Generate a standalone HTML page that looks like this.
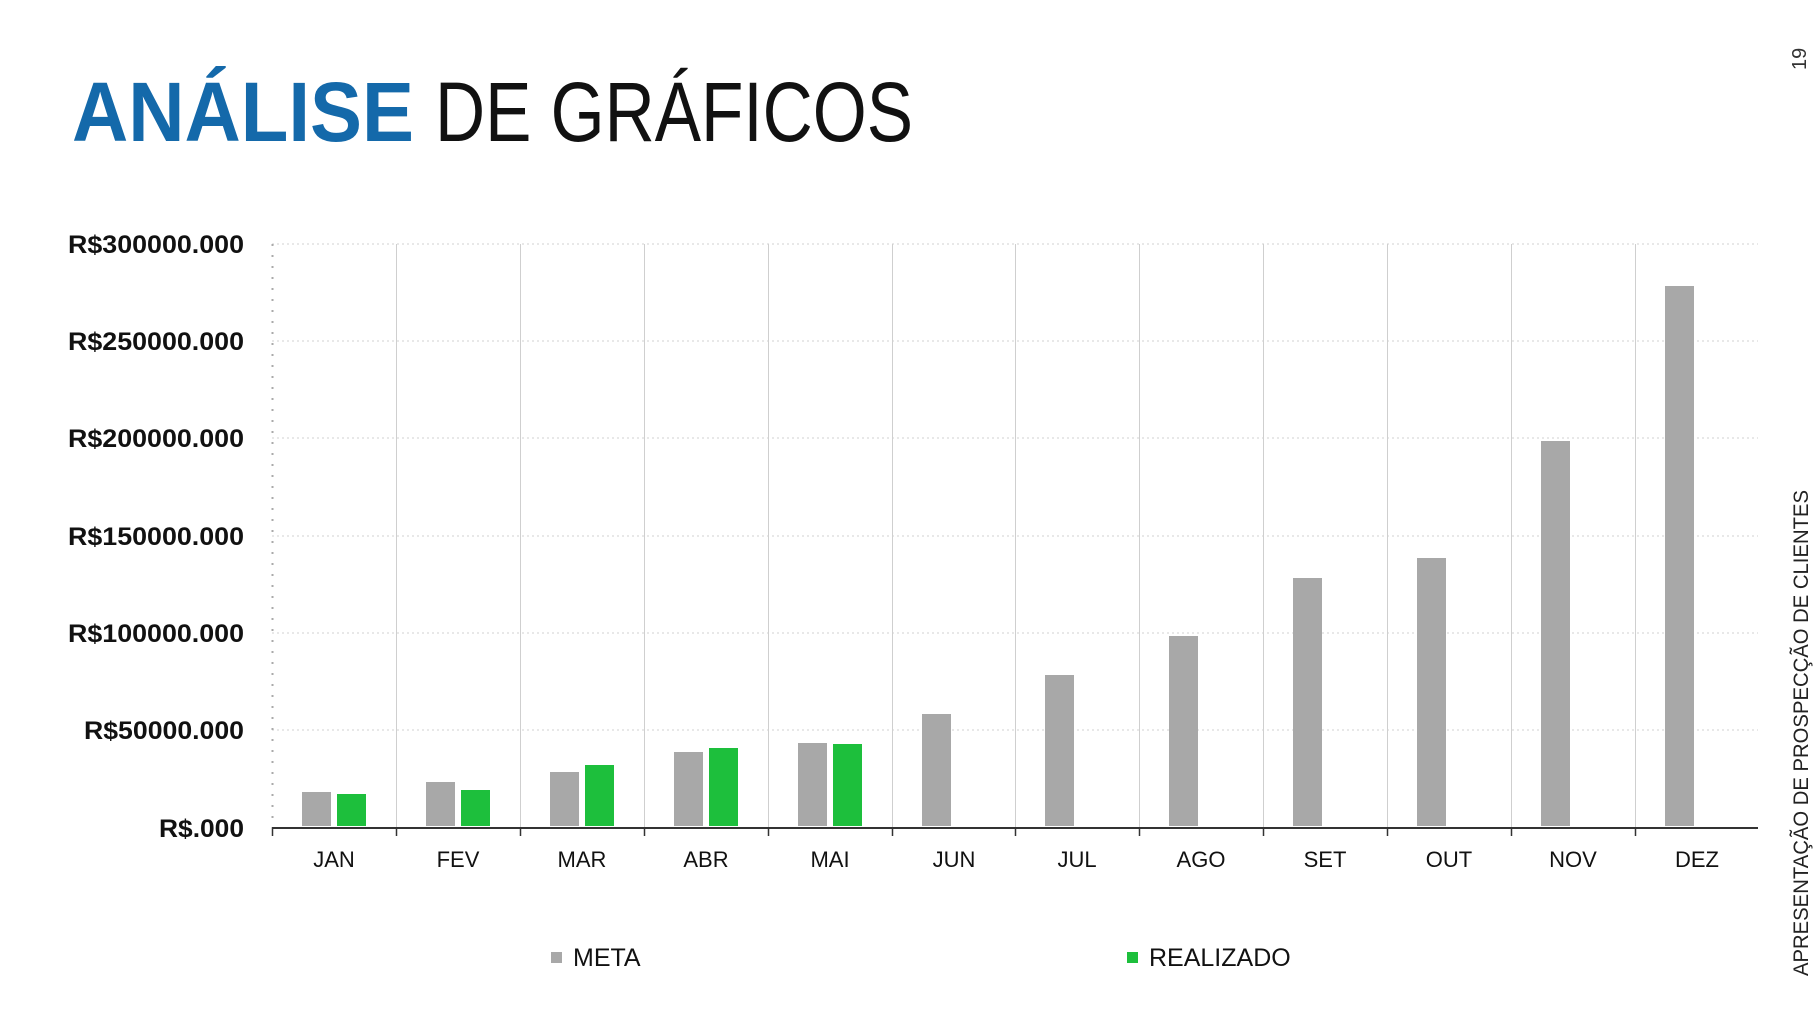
<!DOCTYPE html>
<html><head><meta charset="utf-8"><style>html,body{margin:0;padding:0;background:#fff}svg{display:block}</style></head>
<body>
<svg width="1820" height="1024" viewBox="0 0 1820 1024" xmlns="http://www.w3.org/2000/svg" font-family="'Liberation Sans', sans-serif">
<text x="72" y="141" font-size="84" font-weight="bold" fill="#1469aa" textLength="342" lengthAdjust="spacingAndGlyphs">ANÁLISE</text>
<text x="435" y="141" font-size="84" fill="#111" textLength="478" lengthAdjust="spacingAndGlyphs">DE GRÁFICOS</text>
<text transform="translate(1806,70) rotate(-90)" font-size="20" fill="#333">19</text>
<text transform="translate(1808,976) rotate(-90)" font-size="21" fill="#222" textLength="486" lengthAdjust="spacingAndGlyphs">APRESENTAÇÃO DE PROSPECÇÃO DE CLIENTES</text>
<g stroke="#d0d0d0" stroke-width="1" stroke-dasharray="2,3">
<line x1="272" y1="244" x2="1758" y2="244"/><line x1="272" y1="341" x2="1758" y2="341"/><line x1="272" y1="438" x2="1758" y2="438"/><line x1="272" y1="536" x2="1758" y2="536"/><line x1="272" y1="633" x2="1758" y2="633"/><line x1="272" y1="730" x2="1758" y2="730"/>
</g>
<line x1="272.5" y1="244" x2="272.5" y2="828" stroke="#aaa" stroke-width="2" stroke-dasharray="2,9"/>
<g stroke="#cfcfcf" stroke-width="1">
<line x1="396.5" y1="244" x2="396.5" y2="828"/><line x1="520.5" y1="244" x2="520.5" y2="828"/><line x1="644.5" y1="244" x2="644.5" y2="828"/><line x1="768.5" y1="244" x2="768.5" y2="828"/><line x1="892.5" y1="244" x2="892.5" y2="828"/><line x1="1015.5" y1="244" x2="1015.5" y2="828"/><line x1="1139.5" y1="244" x2="1139.5" y2="828"/><line x1="1263.5" y1="244" x2="1263.5" y2="828"/><line x1="1387.5" y1="244" x2="1387.5" y2="828"/><line x1="1511.5" y1="244" x2="1511.5" y2="828"/><line x1="1635.5" y1="244" x2="1635.5" y2="828"/>
</g>
<g font-size="25" font-weight="bold" fill="#111" lengthAdjust="spacingAndGlyphs">
<text x="68" y="253" textLength="176" lengthAdjust="spacingAndGlyphs">R$300000.000</text>
<text x="68" y="350" textLength="176" lengthAdjust="spacingAndGlyphs">R$250000.000</text>
<text x="68" y="447" textLength="176" lengthAdjust="spacingAndGlyphs">R$200000.000</text>
<text x="68" y="545" textLength="176" lengthAdjust="spacingAndGlyphs">R$150000.000</text>
<text x="68" y="642" textLength="176" lengthAdjust="spacingAndGlyphs">R$100000.000</text>
<text x="84" y="739" textLength="160" lengthAdjust="spacingAndGlyphs">R$50000.000</text>
<text x="159" y="837" textLength="85" lengthAdjust="spacingAndGlyphs">R$.000</text>
</g>
<g fill="#a8a8a8">
<rect x="302" y="792" width="29" height="34"/>
<rect x="426" y="782" width="29" height="44"/>
<rect x="550" y="772" width="29" height="54"/>
<rect x="674" y="752" width="29" height="74"/>
<rect x="798" y="743" width="29" height="83"/>
<rect x="922" y="714" width="29" height="112"/>
<rect x="1045" y="675" width="29" height="151"/>
<rect x="1169" y="636" width="29" height="190"/>
<rect x="1293" y="578" width="29" height="248"/>
<rect x="1417" y="558" width="29" height="268"/>
<rect x="1541" y="441" width="29" height="385"/>
<rect x="1665" y="286" width="29" height="540"/>
</g>
<g fill="#1dbf3c">
<rect x="337" y="794" width="29" height="32"/>
<rect x="461" y="790" width="29" height="36"/>
<rect x="585" y="765" width="29" height="61"/>
<rect x="709" y="748" width="29" height="78"/>
<rect x="833" y="744" width="29" height="82"/>
</g>
<line x1="272" y1="828" x2="1758" y2="828" stroke="#333" stroke-width="2"/>
<g stroke="#333" stroke-width="1.5">
<line x1="272.5" y1="828" x2="272.5" y2="836"/><line x1="396.5" y1="828" x2="396.5" y2="836"/><line x1="520.5" y1="828" x2="520.5" y2="836"/><line x1="644.5" y1="828" x2="644.5" y2="836"/><line x1="768.5" y1="828" x2="768.5" y2="836"/><line x1="892.5" y1="828" x2="892.5" y2="836"/><line x1="1015.5" y1="828" x2="1015.5" y2="836"/><line x1="1139.5" y1="828" x2="1139.5" y2="836"/><line x1="1263.5" y1="828" x2="1263.5" y2="836"/><line x1="1387.5" y1="828" x2="1387.5" y2="836"/><line x1="1511.5" y1="828" x2="1511.5" y2="836"/><line x1="1635.5" y1="828" x2="1635.5" y2="836"/>
</g>
<g font-size="22" fill="#111" text-anchor="middle">
<text x="334" y="867">JAN</text><text x="458" y="867">FEV</text><text x="582" y="867">MAR</text><text x="706" y="867">ABR</text><text x="830" y="867">MAI</text><text x="954" y="867">JUN</text><text x="1077" y="867">JUL</text><text x="1201" y="867">AGO</text><text x="1325" y="867">SET</text><text x="1449" y="867">OUT</text><text x="1573" y="867">NOV</text><text x="1697" y="867">DEZ</text>
</g>
<rect x="551" y="952" width="11" height="11" fill="#a8a8a8"/>
<text x="573" y="966" font-size="25" fill="#111">META</text>
<rect x="1127" y="952" width="11" height="11" fill="#1dbf3c"/>
<text x="1149" y="966" font-size="25" fill="#111">REALIZADO</text>
</svg>
</body></html>
